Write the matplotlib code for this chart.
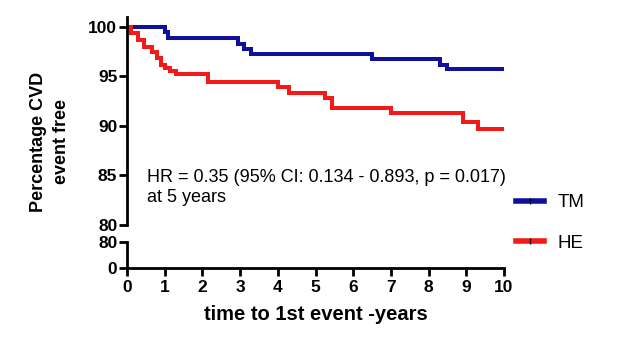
import matplotlib
matplotlib.use('Agg')
import matplotlib.pyplot as plt
from matplotlib.lines import Line2D

plt.rcParams['font.family'] = ['Liberation Sans', 'DejaVu Sans']

# survival steps (time in years, % event free after the step)
tm_t = [0, 1.0, 1.1, 2.95, 3.1, 3.3, 6.5, 8.3, 8.5, 10]
tm_v = [100, 99.5, 98.9, 98.3, 97.8, 97.3, 96.8, 96.2, 95.7, 95.7]
he_t = [0, 0.1, 0.3, 0.45, 0.65, 0.8, 0.9, 1.0, 1.15, 1.3, 2.15, 4.0, 4.3, 5.25, 5.45, 7.0, 8.9, 9.3, 10]
he_v = [100, 99.4, 98.7, 98.0, 97.5, 96.9, 96.2, 95.9, 95.5, 95.2, 94.4, 93.9, 93.3, 92.8, 91.8, 91.3, 90.4, 89.7, 89.7]

top_ticks = [80, 85, 90, 95, 100]
low_ticks = [0, 80]
x_ticks = list(range(0, 11))
labels = ['TM', 'HE']
colors = ['#10109a', '#f51a1a']

fig = plt.figure(figsize=(6.23, 3.47), dpi=100)
ax = fig.add_axes([127/623, 0.3516, 377/623, 0.951-0.3516])
ax2 = fig.add_axes([127/623, 79/347, 377/623, 26/347])

ax.step(tm_t, tm_v, where='post', color=colors[0], lw=2.9, solid_joinstyle='miter')
ax.step(he_t, he_v, where='post', color=colors[1], lw=2.9, solid_joinstyle='miter')
ax.set_xlim(0, 10)
ax.set_ylim(80, 101)
ax.set_yticks(top_ticks)
ax.set_xticks([])
for s in ['top', 'right', 'bottom']:
    ax.spines[s].set_visible(False)
ax.spines['left'].set_linewidth(2)
ax.spines['left'].set_bounds(80, 101)
ax.tick_params(axis='y', width=2, length=6, labelsize=12.5, pad=1)
for lb in ax.get_yticklabels():
    lb.set_fontweight('bold')

ax2.set_xlim(0, 10)
ax2.set_ylim(0, 80)
ax2.set_yticks(low_ticks)
ax2.set_xticks(x_ticks)
for s in ['top', 'right']:
    ax2.spines[s].set_visible(False)
ax2.spines['left'].set_linewidth(2)
ax2.spines['bottom'].set_linewidth(2)
ax2.tick_params(width=2, length=6, labelsize=12.5, pad=1)
ax2.tick_params(axis='x', pad=3)
for lb in ax2.get_yticklabels() + ax2.get_xticklabels():
    lb.set_fontweight('bold')
ax2.set_xlabel('time to 1st event -years', fontsize=14.5, fontweight='bold', labelpad=7)

fig.text(50/623, 1-141.5/347, 'Percentage CVD\nevent free', rotation=90, ha='center', va='center',
         fontsize=13, fontweight='bold', linespacing=1.4)

ax.text(0.53, 83.8, 'HR = 0.35 (95% CI: 0.134 - 0.893, p = 0.017)\nat 5 years', fontsize=13,
        va='center', ha='left', linespacing=1.22)

handles = [Line2D([], [], color=c, lw=4, marker='|', markersize=5, markeredgecolor='k', markeredgewidth=1)
           for c in colors]
fig.legend(handles, labels, loc='center left', bbox_to_anchor=(499/623, 1-223/347), frameon=False,
           fontsize=13.5, handlelength=1.5, handletextpad=0.7, labelspacing=1.25, markerscale=1)

fig.savefig('out.png', dpi=100)
